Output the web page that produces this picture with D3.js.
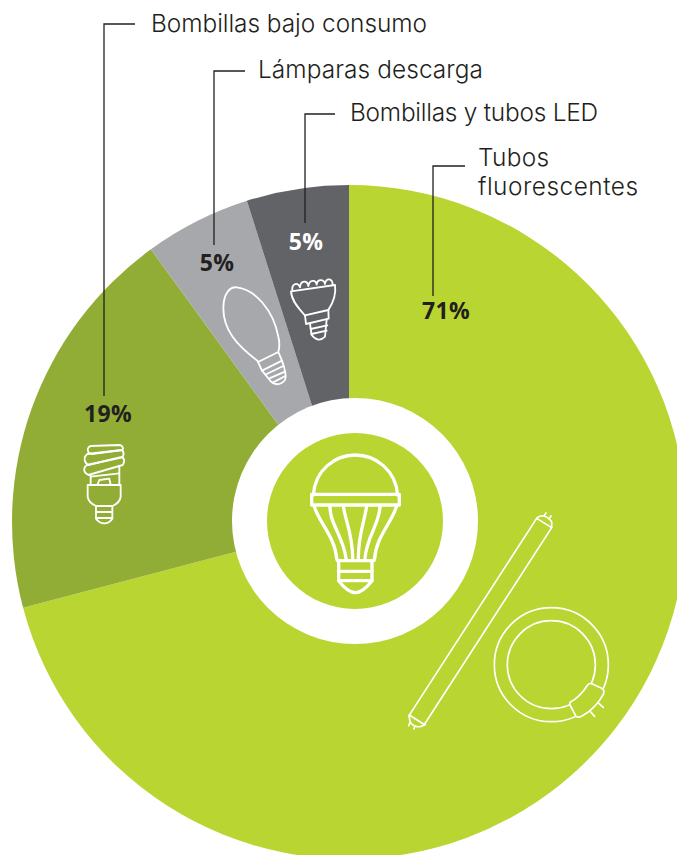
<!DOCTYPE html>
<html><head><meta charset="utf-8">
<script src="https://cdn.jsdelivr.net/npm/d3@7/dist/d3.min.js"></script>
<style>html,body{margin:0;padding:0;background:#fff;overflow:hidden}svg{display:block}</style>
</head><body><div id="c"></div>
<script>
const categories = ["Tubos fluorescentes","Bombillas bajo consumo","Lámparas descarga","Bombillas y tubos LED"];
const values = [70.9,19.1,5.1,4.9];
const pctLabels = ["71%","19%","5%","5%"];
const sliceColors = ["#b9d532","#92ad35","#a7a8ab","#626366"];
const W=677,H=855,cx=349,cy=522,R=337;
const svg=d3.select("#c").append("svg").attr("width",W).attr("height",H).attr("viewBox",`0 0 ${W} ${H}`);
const pie=d3.pie().sort(null).value(d=>d)(values);
const arc=d3.arc().innerRadius(0).outerRadius(R);
svg.append("g").attr("transform",`translate(${cx},${cy})`).selectAll("path").data(pie).join("path")
 .attr("d",arc).attr("fill",(d,i)=>sliceColors[i]);
svg.append("circle").attr("cx",355).attr("cy",521).attr("r",123).attr("fill","#fff");
svg.append("circle").attr("cx",355).attr("cy",521).attr("r",88).attr("fill",sliceColors[0]);

// leader lines
const leaders=[
 {x:104,y:24,hx:135,vy:396},
 {x:214,y:71,hx:245,vy:245},
 {x:305,y:114,hx:335,vy:223},
 {x:433,y:166,hx:465,vy:296}];
svg.append("g").selectAll("path").data(leaders).join("path")
 .attr("d",d=>`M${d.hx},${d.y}H${d.x}V${d.vy}`).attr("fill","none").attr("stroke","#231f20").attr("stroke-width",1.3);

// labels
const labelRows=[
 {t:"Bombillas bajo consumo",x:151,y:32,w:276},
 {t:"Lámparas descarga",x:258,y:78,w:225},
 {t:"Bombillas y tubos LED",x:350,y:121,w:248},
 {t:"Tubos",x:478,y:166,w:71},
 {t:"fluorescentes",x:478,y:195,w:160}];
svg.append("g").selectAll("text").data(labelRows).join("text").text(d=>d.t).attr("x",d=>d.x).attr("y",d=>d.y)
 .attr("textLength",d=>d.w).attr("lengthAdjust","spacing")
 .attr("font-family","Inter, sans-serif").attr("font-weight",300).attr("font-size",24.4).attr("fill","#231f20");

const pctPos=[{x:446,y:319},{x:108,y:422},{x:217,y:271},{x:306,y:250}];
const pctFill=["#231f20","#231f20","#231f20","#ffffff"];
svg.append("g").selectAll("text").data(pctLabels).join("text").text(d=>d)
 .attr("x",(d,i)=>pctPos[i].x).attr("y",(d,i)=>pctPos[i].y).attr("text-anchor","middle")
 .attr("font-family","'Open Sans', sans-serif").attr("font-weight",700).attr("font-size",23).attr("letter-spacing",0.4).attr("fill",(d,i)=>pctFill[i]);

// icons (decorative outlines)
function icon(tx,ty,sw,paths,extra){
 const g=svg.append("g").attr("transform",`translate(${tx},${ty}) scale(${1/3})`)
  .attr("fill","none").attr("stroke","#fff").attr("stroke-width",sw).attr("stroke-linejoin","round").attr("stroke-linecap","round");
 if(extra)extra(g);
 paths.forEach(p=>g.append("path").attr("d",p));
 return g;
}
// centre LED bulb
icon(230,410,10,[
 "M250,255C255,180 315,135 376,135C437,135 497,180 503,255",
 "M245,253H508V285H245Z",
 "M252,287C265,335 315,380 320,445L322,452H432L434,445C438,380 488,335 500,287",
 "M300,287C298,340 340,380 348,445",
 "M340,287C345,330 368,370 368,445",
 "M410,287C405,330 385,370 385,445",
 "M450,287C450,340 410,380 405,445",
 "M326,452V512C340,530 360,548 376,548C392,548 412,530 426,512V452",
 "M326,484H426","M326,512H426"
]);
// long tube + ring
icon(400,505,5,[
 "M410,40C420,28 440,30 455,50L455,68L72,660C60,668 40,668 30,650L27,632Z",
 "M410,40L455,68","M28,630L75,660",
 "M432,32L438,24","M447,42L453,33","M30,653L26,662","M44,664L42,672",
 "M596,595L610,607","M571,620L584,634"
],g=>{
 g.append("circle").attr("cx",454).attr("cy",479).attr("r",171);
 g.append("circle").attr("cx",454).attr("cy",479).attr("r",132);
 g.append("path").attr("fill",sliceColors[0]).attr("d","M510,592C530,582 550,560 563,540Q568,533 577,537L605,550Q615,556 610,568C595,595 570,620 545,634Q533,640 527,632L510,600Z");
});
// CFL
icon(60,230,5.5,[
 "M92,648L178,645Q192,648 188,660L95,672Q80,668 84,655Q85,650 92,648Z",
 "M82,672L185,660Q195,668 188,680L85,705Q70,695 75,680Z",
 "M80,705L188,682Q197,692 188,705L85,735Q68,725 74,712Z",
 "M92,733V765","M178,708V765","M92,740L178,730",
 "M112,765L118,750L148,746L152,765",
 "M83,765H182V800Q180,818 158,828H108Q85,818 83,800Z",
 "M108,830V866Q118,880 133,880Q148,880 157,866V830",
 "M108,846H157","M108,864H157"
]);
// halide lamp
icon(60,230,5.5,[
 "M592,392C530,345 490,300 490,235C490,190 510,170 530,172C585,178 640,240 655,320C660,340 658,355 655,366L594,396L606,422L666,392L655,366",
 "M606,422L634,456Q655,472 675,450Q682,438 666,392",
 "M620,432L670,408","M628,445L675,425","M638,458L676,438"
]);
// LED spot
icon(60,230,5.5,[
 "M697,180C695,160 715,155 720,172C722,150 742,150 745,168C748,148 768,148 770,164C772,145 792,147 795,162C797,142 818,144 818,165",
 "M693,184L825,165C830,200 815,225 805,240L735,256C720,240 695,215 693,184Z",
 "M735,256L738,282L806,266L805,240",
 "M750,282L755,315Q775,340 795,320L800,268",
 "M752,297L802,286","M754,312L800,302"
]);
</script></body></html>
